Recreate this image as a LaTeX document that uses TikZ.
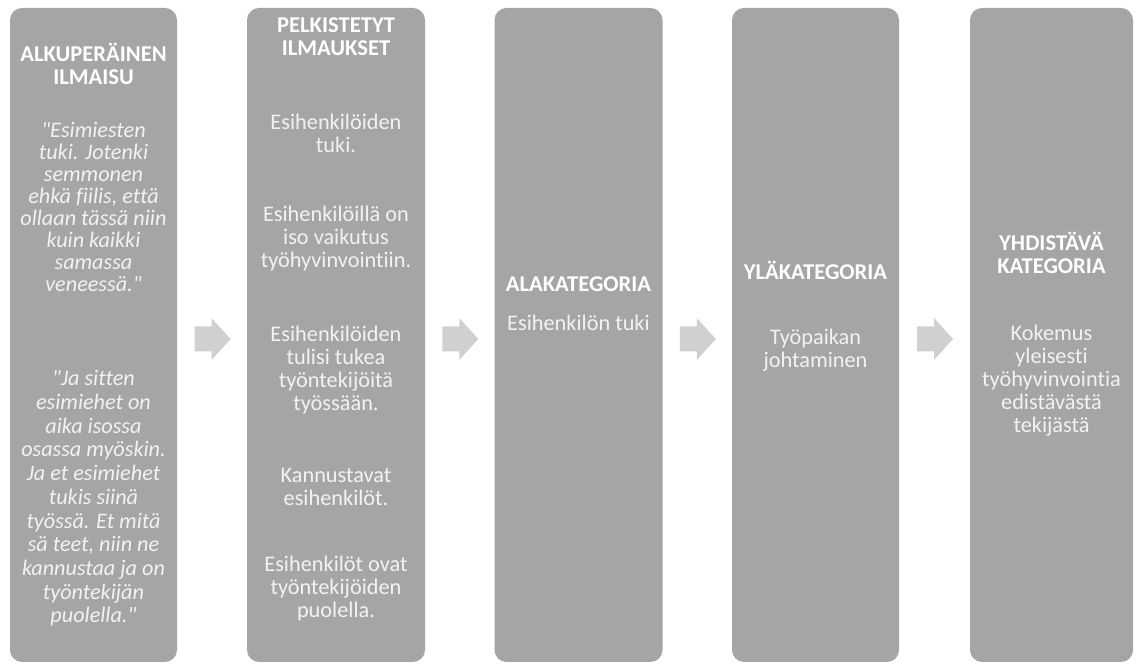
\documentclass[tikz,border=0pt]{standalone}
\usepackage{fontspec}
\setmainfont[Ligatures={TeXOff,NoCommon}]{Carlito}
\usetikzlibrary{calc}
\definecolor{boxgrey}{HTML}{A5A5A5}
\definecolor{arrowgrey}{HTML}{D0D0D0}
\definecolor{textwhite}{HTML}{F2F2F2}
\begin{document}
\begin{tikzpicture}[x=1pt,y=1pt,
  column/.style={fill=boxgrey, rounded corners=12pt, inner sep=0pt,
    minimum height=654pt},
  heading/.style={text=white, align=center, inner sep=0pt,
    font=\fontsize{22.6}{23}\selectfont\bfseries},
  body/.style={text=textwhite, align=center, inner sep=0pt,
    font=\fontsize{22.3}{23}\selectfont},
  quote/.style={text=textwhite, align=center, inner sep=0pt,
    font=\fontsize{22.2}{22}\selectfont\itshape},
  blockarrow/.style={fill=arrowgrey}]
\useasboundingbox (0,0) rectangle (1136,666);
\fill[white] (0,0) rectangle (1136,666);

% the five columns
\node[column, minimum width=167pt] (b1) at (93.5,331) {};
\node[column, minimum width=178pt] (b2) at (336,331) {};
\node[column, minimum width=168pt] (b3) at (578.5,331) {};
\node[column, minimum width=167pt] (b4) at (815.5,331) {};
\node[column, minimum width=163pt] (b5) at (1051.5,331) {};

% block arrows between neighbouring columns
\foreach \a/\b/\n in {b1/b2/m1, b2/b3/m2, b3/b4/m3, b4/b5/m4}{
  \coordinate (\n) at ($(\a.east)!0.5!(\b.west)+(0.5,-4)$);
  \fill[blockarrow] ($(\n)+(-18,-12.5)$) -- ++(17,0) -- ++(0,-8.5)
    -- ++(19,21) -- ++(-19,21) -- ++(0,-8.5) -- ++(-17,0) -- cycle;
}

% column 1
\node[heading] (h1) at (93.5,602) {ALKUPERÄINEN\\ILMAISU};
\node[quote] (q1) at (93.5,459.5) {"Esimiesten\\tuki. Jotenki\\semmonen\\ehkä fiilis, että\\ollaan tässä niin\\kuin kaikki\\samassa\\veneessä."};
\node[quote, font=\fontsize{22.2}{23.7}\selectfont\itshape] (q2) at (93.5,167.5) {"Ja sitten\\esimiehet on\\aika isossa\\osassa myöskin.\\Ja et esimiehet\\tukis siinä\\työssä. Et mitä\\sä teet, niin ne\\kannustaa ja on\\työntekijän\\puolella."};

% column 2
\node[heading] (h2) at (336,629) {PELKISTETYT\\ILMAUKSET};
\node[body] (t2a) at (336,532.5) {Esihenkilöiden\\tuki.};
\node[body] (t2b) at (336,427) {Esihenkilöillä on\\iso vaikutus\\työhyvinvointiin.};
\node[body] (t2c) at (336,296) {Esihenkilöiden\\tulisi tukea\\työntekijöitä\\työssään.};
\node[body] (t2d) at (336,179.5) {Kannustavat\\esihenkilöt.};
\node[body] (t2e) at (336,77) {Esihenkilöt ovat\\työntekijöiden\\puolella.};

% column 3
\node[heading] (h3) at (578.5,382) {ALAKATEGORIA};
\node[body] (t3) at (578.5,343) {Esihenkilön tuki};

% column 4
\node[heading] (h4) at (815.5,396) {YLÄKATEGORIA};
\node[body] (t4) at (815.5,315.5) {Työpaikan\\johtaminen};

% column 5
\node[heading] (h5) at (1051.5,413.5) {YHDISTÄVÄ\\KATEGORIA};
\node[body] (t5) at (1051.5,285) {Kokemus\\yleisesti\\työhyvinvointia\\edistävästä\\tekijästä};
\end{tikzpicture}
\end{document}
